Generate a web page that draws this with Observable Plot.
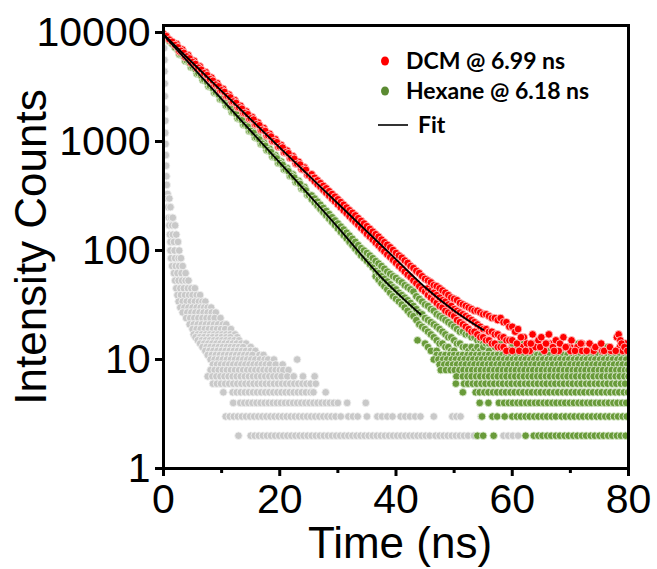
<!DOCTYPE html>
<html><head><meta charset="utf-8">
<script src="https://cdn.jsdelivr.net/npm/d3@7"></script>
<script src="https://cdn.jsdelivr.net/npm/@observablehq/plot@0.6"></script>
<style>
body{margin:0;background:#fff}
#chart{width:657px;height:569px}
#chart g[aria-label$="tick label"], #chart g[aria-label$="tick label"] text{font-size:41px}
</style>
</head><body><div id="chart"></div>
<script>
// ---------- axis ticks ----------
const xTicks = [0, 20, 40, 60, 80];
const xMinorTicks = [10, 30, 50, 70];
const yTicks = [1, 10, 100, 1000, 10000];
const legendLabels = ["DCM @ 6.99 ns", "Hexane @ 6.18 ns", "Fit"];

// ---------- DCM (red): decay [time ns, counts] ----------
const dcmDecay = [[0,9700],[0.5,9260],[1,8610],[1.5,8240],[2,7690],[2.5,7330],[3,6790],[3.5,6510],[4,6040],[4.5,5790],[5,5360],[5.5,5150],[6,4760],[6.5,4560],[7,4230],[7.5,4070],[8,3740],[8.5,3610],[9,3330],[9.5,3210],[10,2950],[10.5,2850],[11,2620],[11.5,2540],[12,2330],[12.5,2260],[13,2060],[13.5,2000],[14,1830],[14.5,1780],[15,1630],[15.5,1590],[16,1440],[16.5,1410],[17,1280],[17.5,1250],[18,1140],[18.5,1110],[19,1010],[19.5,985],[20,900],[20.5,880],[21,795],[21.5,780],[22,705],[22.5,695],[23,625],[23.5,615],[24,555],[24.5,550],[25,490],
[25.5,500],[25.5,460],[26,465],[26,432],[26.5,440],[26.5,405],[27,415],[27,384],[27.5,392],[27.5,360],[28,372],[28,338],[28.5,350],[28.5,318],[29,330],[29,298],[29.5,312],[29.5,282],[30,295],[30,264],[30.5,278],[30.5,248],[31,263],[31,233],[31.5,248],[31.5,220],[32,234],[32,206],[32.5,222],[32.5,194],[33,210],[33,183],[33.5,198],[33.5,172],[34,187],[34,161],[34.5,177],[34.5,152],[35,167],[35,142],[35.5,158],[35.5,134],[36,149],[36,126],[36.5,141],[36.5,118],[37,134],[37,111],[37.5,126],[37.5,104],[38,119],[38,98],[38.5,113],[38.5,92],[39,107],[39,87],[39.5,101],[39.5,82],[40,95],[40,77],[40.5,90],[40.5,72],[41,86],[41,68],[41.5,81],[41.5,64],[42,77],[42,60],[42.5,72],[42.5,57],[43,69],[43,53],[43.5,65],[43.5,50],[44,62],[44,47],[44.5,58],[44.5,44],[45,55],[45,42],
[45.5,53],[45.5,45],[45.5,39],[46,51],[46,43],[46,37],[46.5,48],[46.5,41],[46.5,35],[47,47],[47,39],[47,33],[47.5,45],[47.5,37],[47.5,31],[48,43],[48,35],[48,30],[48.5,41],[48.5,34],[48.5,28],[49,39],[49,32],[49,27],[49.5,37],[49.5,31],[49.5,26],[50,36],[50,29],[50,25],[50.5,35],[50.5,28],[50.5,23],[51,33],[51,27],[51,22],[51.5,32],[51.5,26],[51.5,21],[52,31],[52,25],[52,20],[52.5,30],[52.5,24],[52.5,19],[53,29],[53,23],[53,18],[53.5,28],[53.5,22],[53.5,18],[54,28],[54,21],[54,17],[54.5,27],[54.5,20],[54.5,16],[55,26],[55,19],[55,16],[55.5,26],[55.5,19],[55.5,15],[56,25],[56,18],[56,15],[56.5,24],[56.5,18],[56.5,14],[57,24],[57,17],[57,14],[57.5,23],[57.5,17],[57.5,13],[58,24],[58,16],[58,13],[58.5,22],[58.5,16],[58.5,13],[59,22],[59,15],[59,12],[59.5,20],[59.5,15],[60,20],[60,15],[60,12]];
// DCM scattered tail points beyond 60 ns
const dcmTail = [[60.5,18],[61,19],[61.5,13],[62,16],[62.5,14],[63,12],[63.5,17],[64,13],[64.5,15],[65,16],[65.5,12],[66,14],[66.5,11],[67,13],[67.5,15],[68,12],[68.8,16],[69,11],[69.5,13],[70,12],[70.5,11],[71.2,13],[71.5,11],[72,12],[72.5,10],[73,11],[73.8,13],[74,12],[74.5,11],[75,10],[75.5,12],[76,11],[76.5,10],[77,12],[77.3,11],[78,16],[78.3,17],[78.6,15],[79,12],[79.5,11],[80,10],
[60.8,14],[61.2,12],[61.5,16],[62.3,12],[63.2,14],[64.2,11],[64.8,13],[65.8,14],[66.3,17],[66.8,11],[67.2,12],[68.2,14],[69.2,13],[69.6,11],[70.2,15],[70.8,12],[71.8,14],[72.8,12],[73.3,14],[73.5,11],[74.3,13],[75.3,14],[75.8,12],[76.2,11],[76.8,13],[77.8,12],[78.8,14],[79.3,13],[79.8,12]];
// extra DCM points read along the upper and lower edges of the early band
const dcmEdge = [[2.25,7860],[3.25,6980],[4.25,6200],[5.25,5510],[6.25,4890],[7.25,4340],[8.25,3860],[9.25,3430],[10.25,3040],[11.25,2700],[12.25,2400],[13.25,2130],[14.25,1890],[15.25,1680],[16.25,1495],[17.25,1330],[18.25,1180],[19.25,1050],[20.25,930],[21.25,826],[22.25,734],[23.25,652],[24.25,579],
[2.75,6700],[3.75,5950],[4.75,5290],[5.75,4700],[6.75,4170],[7.75,3700],[8.75,3290],[9.75,2920],[10.75,2600],[11.75,2300],[12.75,2050],[13.75,1820],[14.75,1615],[15.75,1435],[16.75,1275],[17.75,1130],[18.75,1005],[19.75,893],[20.75,793],[21.75,705],[22.75,626],[23.75,556],[24.75,494]];
// DCM background rows: integer count level -> times (ns) where dots appear
const dcmRowLevels = [14, 13, 12, 11, 10, 9, 8, 7];
const dcmRowTimes = [
  [58, 61, 63.5, 66.5, 72, 79.5],
  [57, 60, 62, 65, 67, 70, 74, 78.5, 80],
  [56, 57.5, 59, 60.5, 62, 63.2, 64.5, 66, 67.3, 68.5, 70, 71, 72.5, 74, 75, 76.3, 77.5, 79],
  [58, 59.5, 60.5, 61.5, 63, 64, 65.5, 67, 68.5, 70, 71.5, 73, 74.5, 76, 77.5, 79],
  [59, 60, 61, 62.5, 63.5, 65, 66, 67.5, 69, 70.5, 72, 73.5, 75, 76, 77.5, 79, 80],
  [60, 62, 64, 66, 68, 70, 72, 74, 76, 78, 80],
  [61, 64, 67, 70, 73, 76, 79],
  [61.8, 70]
];
const dcmFit = [[0,9600],[10,2900],[20,880],[30,270],[40,83],[45,46],[50,28],[55,18.7]];

// ---------- Hexane (green) ----------
const hexDecay = [[0,9500],[0.5,8950],[1,8330],[1.5,7880],[2,7270],[2.5,6900],[3,6350],[3.5,6020],[4,5550],[4.5,5260],[5,4840],[5.5,4600],[6,4230],[6.5,4020],[7,3700],[7.5,3520],[8,3230],[8.5,3070],[9,2820],[9.5,2690],[10,2460],[10.5,2350],[11,2150],[11.5,2050],[12,1880],[12.5,1795],[13,1640],[13.5,1570],[14,1430],[14.5,1370],[15,1250],[15.5,1200],[16,1090],[16.5,1045],[17,955],[17.5,915],[18,832],[18.5,800],[19,728],[19.5,700],[20,636],[20.5,612],[21,555],[21.5,534],[22,484],[22.5,467],[23,423],[23.5,408],[24,370],[24.5,356],[25,322],
[25.5,320],[25.5,296],[26,300],[26,276],[26.5,281],[26.5,258],[27,263],[27,241],[27.5,246],[27.5,225],[28,231],[28,210],[28.5,216],[28.5,196],[29,202],[29,183],[29.5,189],[29.5,171],[30,177],[30,159],[30.5,166],[30.5,148],[31,156],[31,138],[31.5,146],[31.5,129],[32,137],[32,120],[32.5,128],[32.5,112],[33,120],[33,104],[33.5,112],[33.5,97],[34,105],[34,90],[34.5,100],[34.5,85],[35,95],[35,80],[35.5,90],[35.5,75],[36,85],[36,70],[36.5,80],[36.5,65],[36.5,58],[37,76],[37,62],[37,54],[37.5,72],[37.5,58],[37.5,50],[38,68],[38,55],[38,47],[38.5,64],[38.5,52],[38.5,44],[39,61],[39,49],[39,41],[39.5,58],[39.5,46],[39.5,38],[40,56],[40,44],[40,36],[40.5,53],[40.5,41],[40.5,34],[41,51],[41,39],[41,32],[41.5,48],[41.5,37],[41.5,30],[42,46],[42,35],[42,28],[42.5,44],[42.5,33],[42.5,26],[43,42],[43,31],[43,25],
[43.5,38],[43.5,29],[43.5,23],[43.7,15],[44,36],[44,27],[44,21],[44.5,34],[44.5,26],[44.5,20],[45,32],[45,24],[45,19],[45,14],[45.5,31],[45.5,23],[45.5,18],[45.5,13],[46,29],[46,22],[46,17],[46,12],[46.5,28],[46.5,21],[46.5,16],[47,26],[47,20],[47,15],[47,12],[47.5,25],[47.5,19],[47.5,14],[47.7,8],[48,24],[48,18],[48,14],[48.5,23],[48.5,17],[48.5,13],[49,22],[49,16],[49,13],[49.5,21],[49.5,16],[49.5,12],[50,20],[50,15],[50,12],[50.5,19],[50.5,14],[51,18],[51,14],[51.5,18],[51.5,13],[52,17],[52,13],[52.5,17],[52.5,12],[53,16],[53,13],[53.5,16],[53.5,12],[54,15],[54,13],[54.5,15],[54.5,12],[55,14],[55,13],[55.5,14],[56,14],[56,12],[57,13],[58,14],[58,12],[59,15],[60,14],[61,13],[62,14],[63.5,12],[65,13],[66.5,12],[68,12],[71.4,14],[72.5,12],[76.4,13]];
const hexEdge = [[2.25,7440],[3.25,6500],[4.25,5680],[5.25,4960],[6.25,4330],[7.25,3790],[8.25,3310],[9.25,2890],[10.25,2525],[11.25,2207],[12.25,1928],[13.25,1684],[14.25,1472],[15.25,1286],[16.25,1124],[17.25,982],[18.25,858],[19.25,749],[20.25,655],[21.25,571],[22.25,499],[23.25,436],[24.25,382],
[2.75,6290],[3.75,5490],[4.75,4800],[5.75,4190],[6.75,3660],[7.75,3200],[8.75,2800],[9.75,2440],[10.75,2135],[11.75,1865],[12.75,1630],[13.75,1423],[14.75,1244],[15.75,1087],[16.75,950],[17.75,830],[18.75,725],[19.75,633],[20.75,553],[21.75,483],[22.75,422],[23.75,369],[24.75,323]];
const hexRowLevels = [11, 10, 9, 8, 7, 6, 5, 4, 3, 2];
const hexRowTimes = [
  [47.0,47.8,48.5,49.3,50.0,50.8,51.5,52.3,53.0,53.8,54.5,55.3,56.0,56.8,57.5,58.3,59.0,59.8,60.5,61.3,62.0,62.8,63.5,64.3,65.0,65.8,66.5,67.3,68.0,68.8,69.5,70.3,71.0,71.8,72.5,73.3,74.0,74.8,75.5,76.3,77.0,77.8,78.5,79.3,80.0],
  [46.5,47.3,48.1,48.8,49.6,50.3,51.1,51.8,52.6,53.3,54.1,54.8,55.6,56.3,57.1,57.8,58.6,59.3,60.1,60.8,61.6,62.3,63.1,63.8,64.6,65.3,66.1,66.8,67.6,68.3,69.1,69.8,70.6,71.3,72.1,72.8,73.6,74.3,75.1,75.8,76.6,77.3,78.1,78.8,79.6],
  [47.5,48.3,49.0,49.8,50.5,51.3,52.0,52.8,53.5,54.3,55.0,55.8,56.5,57.3,58.0,58.8,59.5,60.3,61.0,61.8,62.5,63.3,64.0,64.8,65.5,66.3,67.0,67.8,68.5,69.3,70.0,70.8,71.5,72.3,73.0,73.8,74.5,75.3,76.0,76.8,77.5,78.3,79.0,79.8],
  [47.7,48.6,49.4,50.1,50.9,51.6,52.4,53.1,53.9,54.6,55.4,56.1,56.9,57.6,58.4,59.1,59.9,60.6,61.4,62.1,62.9,63.6,64.4,65.1,65.9,66.6,67.4,68.1,68.9,69.6,70.4,71.1,71.9,72.6,73.4,74.1,74.9,75.6,76.4,77.1,77.9,78.6,79.4,80.0],
  [50.4,51.5,52.3,53.0,53.8,54.5,55.3,56.0,56.8,57.5,58.3,59.0,59.8,60.5,61.3,62.0,62.8,63.5,64.3,65.0,65.8,66.5,67.3,68.0,68.8,69.5,70.3,71.0,71.8,72.5,73.3,74.0,74.8,75.5,76.3,77.0,77.8,78.5,79.3,80.0],
  [50.3,51.7,52.4,53.2,53.9,54.7,55.4,56.2,56.9,57.7,58.4,59.2,59.9,60.7,61.4,62.2,62.9,63.7,64.4,65.2,65.9,66.7,67.4,68.2,68.9,69.7,70.4,71.2,71.9,72.7,73.4,74.2,74.9,75.7,76.4,77.2,77.9,78.7,79.4],
  [51.5,53.7,54.4,55.2,55.9,56.7,57.4,58.2,58.9,59.7,60.4,61.2,61.9,62.7,63.4,64.2,64.9,65.7,66.4,67.2,67.9,68.7,69.4,70.2,70.9,71.7,72.4,73.2,73.9,74.7,75.4,76.2,76.9,77.7,78.4,79.2,79.9],
  [54.4,55.9,57.7,58.6,59.4,60.1,60.9,61.6,62.4,63.1,63.9,64.6,65.4,66.1,66.9,67.6,68.4,69.1,69.9,70.6,71.4,72.1,72.9,73.6,74.4,75.1,75.9,76.6,77.4,78.1,78.9,79.6],
  [54.8,56.6,57.4,58.7,60.0,60.8,61.5,62.3,63.0,63.8,64.5,65.3,66.0,66.8,67.5,68.5,69.2,70.0,70.7,71.5,72.2,73.0,73.7,74.5,75.2,76.0,76.7,77.5,78.2,79.0,79.7],
  [54.0,55.0,56.8,62.3,63.7,64.5,65.2,66.0,66.7,67.5,68.2,69.0,69.7,70.5,71.2,72.0,72.7,73.5,74.2,75.0,75.7,76.5,77.2,78.0,78.7,79.5]
];
const hexFit = [[0,9500],[10,2450],[20,640],[30,163],[37.3,58],[44.2,26]];

// ---------- Instrument response (gray) ----------
const irfPeak = [[0.1,9000],[0.1,7200],[0.15,5600],[0.15,4400],[0.2,3400],[0.2,2600],[0.25,2000],[0.3,1550],[0.3,1200],[0.35,950],[0.4,750],[0.45,600],[0.5,480],[0.55,400]];
const irfLevels = [330,300,250,200,170,140,120,100,85,72,62,53,45,39,34,30,27,24,21,19,17,16,15,14,13,12,11,10,9,8,7,6,5,4,3,2];
const irfTimes = [
  [0.7],
  [0.7,1.0],
  [0.8,1.2],
  [0.9,1.3,1.6],
  [1.0,1.5,2.0],
  [1.1,1.6,2.2],
  [1.2,1.8,2.5],
  [1.2,1.9,2.7],
  [1.3,2.0,2.6,3.0],
  [1.5,2.1,2.7,3.3],
  [1.8,2.4,3.1,3.8],
  [2.0,2.6,3.2,3.8,4.3],
  [2.2,2.9,3.5,4.2,4.8,5.4],
  [2.4,3.0,3.7,4.4,5.0,5.7,6.3],
  [2.6,3.3,4.0,4.7,5.4,6.1,6.7,7.2],
  [2.9,3.6,4.3,5.0,5.7,6.4,7.0,7.6,8.2],
  [3.3,4.1,4.8,5.5,6.2,6.9,7.6,8.3,9.0],
  [3.9,4.6,5.3,6.0,6.7,7.4,8.1,8.8,9.8],
  [4.5,5.2,5.9,6.6,7.3,8.0,8.7,9.4,10.2,10.8],
  [5.0,5.7,6.4,7.1,7.8,8.5,9.2,9.9,10.6,11.6],
  [5.2,5.9,6.6,7.3,8.0,8.7,9.4,10.1,10.8,11.5,12.3],
  [5.5,6.3,7.0,7.8,8.5,9.3,10.0,10.8,11.5,12.7],
  [5.9,6.6,7.3,8.0,8.7,9.4,10.1,10.8,11.5,12.2,13.0],
  [6.3,7.0,7.7,8.4,9.1,9.8,10.5,11.2,11.9,12.6,13.4,14.2],
  [6.7,7.4,8.1,8.8,9.5,10.2,10.9,11.6,12.3,13.0,13.7,15.0],
  [7.2,7.9,8.6,9.3,10.0,10.7,11.4,12.1,12.8,13.5,14.2,15.0,15.8],
  [7.6,8.3,9.0,9.7,10.4,11.1,11.8,12.5,13.2,13.9,14.6,15.3,16.5,17.2],
  [8.1,8.8,9.5,10.2,10.9,11.6,12.3,13.0,13.7,14.4,15.1,15.8,16.6,17.4,18.0,19.0,23.0],
  [8.5,9.2,9.9,10.6,11.3,12.0,12.7,13.4,14.1,14.8,15.5,16.2,16.9,17.6,18.3,19.3,20.5],
  [8.1,8.8,9.5,10.2,10.9,11.6,12.3,13.0,13.7,14.4,15.1,15.8,16.5,17.2,17.9,18.6,19.3,20.0,20.6,21.5],
  [7.6,8.4,9.1,9.8,10.5,11.2,11.9,12.6,13.3,14.0,14.7,15.4,16.1,16.8,17.5,18.2,18.9,19.6,20.3,21.3,22.4,24.0,26.0],
  [8.5,9.2,9.9,10.6,11.3,12.0,12.7,13.4,14.1,14.8,15.5,16.2,16.9,17.6,18.3,19.0,19.7,20.4,21.1,21.8,22.5,23.2,23.9,24.6,25.3,26.2],
  [10.3,11.9,12.6,13.3,14.0,14.7,15.4,16.1,16.8,17.5,18.2,18.9,19.6,20.3,21.0,21.7,22.4,23.1,23.8,24.5,25.3,25.8,27.9],
  [12.0,13.2,13.9,14.6,15.3,16.0,16.7,17.4,18.1,18.8,19.5,20.2,20.9,21.6,22.3,23.0,23.7,24.4,25.1,25.8,26.5,27.2,27.9,28.6,29.3,30.0,31.6,34.8],
  [10.7,11.4,12.1,12.8,13.5,14.2,14.9,15.6,16.3,17.0,17.7,18.4,19.1,19.8,20.5,21.2,21.9,22.6,23.3,24.0,24.7,25.4,26.1,26.8,27.5,28.2,28.9,29.6,30.5,31.8,32.6,33.4,35.0,36.8,37.6,38.5,39.4,40.8,41.6,42.4,43.3,44.2,46.5,49.7,50.4,51.1,54.6],
  [12.9,15.0,15.7,16.4,17.1,17.8,18.5,19.2,19.9,20.6,21.3,22.0,22.7,23.4,24.1,24.8,25.5,26.2,26.9,27.6,28.3,29.0,29.7,30.4,31.1,31.8,32.5,33.2,33.9,34.6,35.3,36.0,36.7,37.4,38.1,38.8,39.5,40.2,40.9,41.6,42.3,43.0,43.7,44.4,45.1,45.8,46.8,47.5,48.2,48.9,49.6,50.3,51.0,51.7,52.4,53.4,58.5,59.3,60.1,61.0]
];

// ---------- build tables ----------
const fromPairs = a => a.map(([t, c]) => ({t, c}));
const fromRows = (levels, times) => levels.flatMap((c, i) => times[i].map(t => ({t, c})));
const gray = fromPairs(irfPeak).concat(fromRows(irfLevels, irfTimes));
const tail = fromPairs(dcmTail);
// low tail points sit behind the green rows, higher ones in front
const redBack = fromRows(dcmRowLevels, dcmRowTimes).concat(tail.filter(d => d.c < 12));
const redFront = fromPairs(dcmEdge).concat(fromPairs(dcmDecay), tail.filter(d => d.c >= 12));
const green = fromPairs(hexEdge).concat(fromPairs(hexDecay), fromRows(hexRowLevels, hexRowTimes));

const RED = "#ff0000", GREEN = "#699b3a", GRAY = "#c9c9c9";
const dotOpts = (fill, stroke) => ({x: "t", y: "c", r: 3.8, fill, stroke, strokeWidth: 0.9, clip: true});

const chart = Plot.plot({
  width: 657, height: 569,
  marginLeft: 163, marginRight: 29, marginTop: 25, marginBottom: 101,
  style: {fontFamily: "'Liberation Sans', Arial, sans-serif", background: "white", color: "black", overflow: "visible"},
  x: {domain: [0, 80]},
  y: {type: "log", domain: [1, 11600]},
  marks: [
    Plot.dot(gray, dotOpts(GRAY, "#f2f2f2")),
    Plot.dot(redBack, dotOpts(RED, "#ffc4c4")),
    Plot.dot(green, dotOpts(GREEN, "#dcebd0")),
    Plot.dot(redFront, dotOpts(RED, "#ffc4c4")),
    Plot.line(fromPairs(dcmFit), {x: "t", y: "c", stroke: "black", strokeWidth: 1.8, curve: "monotone-x"}),
    Plot.line(fromPairs(hexFit), {x: "t", y: "c", stroke: "black", strokeWidth: 1.8, curve: "monotone-x"}),
    Plot.frame({strokeWidth: 3, stroke: "black"}),
    Plot.axisY({ticks: yTicks, tickFormat: "d", tickSize: 8, tickPadding: 5, fontSize: 41, strokeWidth: 3, label: null}),
    Plot.axisX({ticks: xTicks, tickFormat: "d", tickSize: 8, tickPadding: 7, fontSize: 41, strokeWidth: 3, label: null}),
    Plot.axisX({ticks: xMinorTicks, tickFormat: () => "", tickSize: 5, strokeWidth: 3, label: null}),
    Plot.text(["Intensity Counts"], {text: d => d, frameAnchor: "left", textAnchor: "middle", lineAnchor: "middle", rotate: -90, dx: -132, fontSize: 44}),
    Plot.text(["Time (ns)"], {text: d => d, frameAnchor: "bottom", textAnchor: "middle", lineAnchor: "middle", dx: 4, dy: 75, fontSize: 44})
  ]
});
document.getElementById("chart").appendChild(chart);

// ---------- legend (inside plot, top right) ----------
const svg = d3.select(chart);
const lg = svg.append("g").attr("font-family", "Lato, 'Open Sans', sans-serif").attr("font-weight", 700).attr("font-size", 23).attr("fill", "black").attr("text-anchor", "start");
lg.append("ellipse").attr("cx", 385).attr("cy", 61).attr("rx", 4).attr("ry", 4.6).attr("fill", RED);
lg.append("ellipse").attr("cx", 385).attr("cy", 91).attr("rx", 4).attr("ry", 4.6).attr("fill", "#5b8a32");
lg.append("line").attr("x1", 378).attr("x2", 408).attr("y1", 125).attr("y2", 125).attr("stroke", "black").attr("stroke-width", 1.6);
lg.append("text").attr("x", 406).attr("y", 69).text(legendLabels[0]);
lg.append("text").attr("x", 406).attr("y", 99).text(legendLabels[1]);
lg.append("text").attr("x", 418).attr("y", 133).text(legendLabels[2]);
</script>
</body></html>
